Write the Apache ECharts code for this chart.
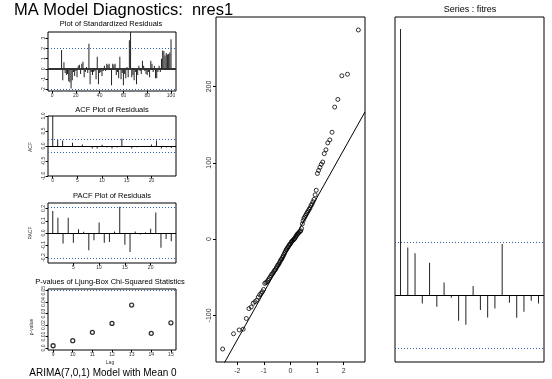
<!DOCTYPE html>
<html>
<head>
<meta charset="utf-8">
<script src="https://cdn.jsdelivr.net/npm/echarts@6/dist/echarts.min.js"></script>
<style>
  html, body { margin: 0; padding: 0; background: #fff; }
  #chart { width: 552px; height: 379px; }
</style>
</head>
<body>
<div id="chart"></div>
<script>
const FONT = '"Liberation Sans", Arial, Helvetica, sans-serif';

// standardized residuals, observations 8..100
const residStart = 8;
const residValues = [
  1.85, -1.1, 0.65, -0.4, -0.6, -0.5, -1.2, -1.3, -1.9, -1.1,
  -0.3, -0.7, -0.2, -0.8, 0.3, 0.4, -0.5, 0.5, 0.7, -0.8,
  -0.3, 0.2, -0.4, 2.45, -1.5, -0.3, -0.6, -0.3, -0.2, -1.0,
  1.2, -1.5, -0.4, -0.3, -0.7, -0.2, 0.3, -0.2, 0.5, 0.4,
  0.5, -0.1, -1.6, 0.5, 0.4, 0.5, -0.6, -0.3, -0.9, 1.2,
  -1.0, -0.4, -1.6, -0.5, -0.9, 0.2, -0.8, 2.8, 3.6, -0.8,
  -0.6, -1.1, -0.3, -1.5, -0.6, 0.3, -0.2, -0.5, 0.8, 0.3,
  -0.2, -0.5, -0.6, -0.3, -0.8, 0.8, 0.5, -0.3, 0.3, -0.9,
  -0.9, -0.3, 0.3, -0.3, 1.0, 1.8, 1.75, 1.3, 1.55, 1.4,
  1.45, 1.6, 2.9
];
const residXTicks = [0, 20, 40, 60, 80, 100];
const residYTicks = [-2, -1, 0, 1, 2, 3];
const residBound = 2;

// ACF of residuals
const acfLags = [0, 1, 2, 3, 4, 5, 6, 7, 8, 9, 10, 11, 12, 13, 14, 15, 16, 17, 18, 19, 20, 21, 22, 23, 24];
const acfValues = [1.0, 0.2, 0.18, -0.03, 0.11, -0.02, 0.05, -0.03, -0.08, -0.08, 0.04, -0.05, -0.08,
  -0.05, 0.24, -0.02, -0.08, -0.04, -0.03, -0.03, 0.05, 0.18, -0.08, -0.05, -0.07];
const acfXTicks = [0, 5, 10, 15, 20];
const acfYTicks = [-1, -0.5, 0, 0.5, 1];
const acfBound = 0.207;

// PACF of residuals
const pacfLags = [1, 2, 3, 4, 5, 6, 7, 8, 9, 10, 11, 12, 13, 14, 15, 16, 17, 18, 19, 20, 21, 22, 23, 24];
const pacfValues = [0.18, 0.125, -0.086, 0.125, -0.08, 0.03, 0.01, -0.14, -0.06, 0.086, -0.08, -0.073,
  0.013, 0.215, -0.095, -0.155, 0.013, -0.013, 0.005, 0.035, 0.168, -0.12, -0.05, -0.068];
const pacfXTicks = [5, 10, 15, 20];
const pacfYTicks = [-0.2, -0.1, 0, 0.1, 0.2];

// Ljung-Box p-values
const ljungLags = [9, 10, 11, 12, 13, 14, 15];
const ljungPValues = [0.002, 0.0064, 0.0137, 0.0215, 0.0375, 0.0128, 0.022];
const ljungYTicks = [0, 0.01, 0.02, 0.03, 0.04, 0.05];
const ljungYLabels = ['0.0', '0.01', '0.02', '0.03', '0.04', '0.05'];
const ljungLevel = 0.05;

// normal QQ plot of residuals (sorted sample)
const qqSample = [
  -144, -124, -119, -118, -104, -91, -89, -84, -82, -80,
  -76, -73, -71, -69, -66, -58, -57, -56, -54, -52,
  -50, -48, -46, -45, -43, -41, -40, -38, -36, -34,
  -33, -31, -29, -27, -26, -24, -22, -20, -18, -16,
  -14, -13, -11, -10, -8, -7, -6, -4, -3, -2,
  -1, 0, 1, 3, 4, 6, 7, 8, 9, 10,
  11, 14, 20, 24, 27, 29, 31, 33, 35, 37,
  39, 41, 44, 46, 49, 52, 58, 64, 86, 90,
  94, 98, 101, 112, 117, 126, 130, 140, 173, 183,
  214, 216, 274
];
const qqLineIntercept = -7.5;
const qqLineSlope = 62.2;
const qqXTicks = [-2, -1, 0, 1, 2];
const qqYTicks = [-100, 0, 100, 200];

// ACF of fitted values
const fitLags = [0, 1, 2, 3, 4, 5, 6, 7, 8, 9, 10, 11, 12, 13, 14, 15, 16, 17, 18, 19];
const fitAcf = [1.0, 0.18, 0.158, -0.03, 0.123, -0.043, 0.048, -0.009, -0.095, -0.11,
  0.035, -0.055, -0.083, -0.049, 0.193, -0.028, -0.084, -0.061, -0.02, -0.03];
const fitBound = 0.202;

// inverse normal cdf (Acklam) for the theoretical quantiles
function qnorm(p) {
  const a = [-39.6968302866538, 220.946098424521, -275.928510446969, 138.357751867269, -30.6647980661472, 2.50662827745924];
  const b = [-54.4760987982241, 161.585836858041, -155.698979859887, 66.8013118877197, -13.2806815528857];
  const c = [-0.00778489400243029, -0.322396458041136, -2.40075827716184, -2.54973253934373, 4.37466414146497, 2.93816398269878];
  const d = [0.00778469570904146, 0.32246712907004, 2.445134137143, 3.75440866190742];
  const pl = 0.02425;
  let q, r;
  if (p < pl) {
    q = Math.sqrt(-2 * Math.log(p));
    return (((((c[0] * q + c[1]) * q + c[2]) * q + c[3]) * q + c[4]) * q + c[5]) / ((((d[0] * q + d[1]) * q + d[2]) * q + d[3]) * q + 1);
  }
  if (p > 1 - pl) {
    q = Math.sqrt(-2 * Math.log(1 - p));
    return -(((((c[0] * q + c[1]) * q + c[2]) * q + c[3]) * q + c[4]) * q + c[5]) / ((((d[0] * q + d[1]) * q + d[2]) * q + d[3]) * q + 1);
  }
  q = p - 0.5;
  r = q * q;
  return (((((a[0] * r + a[1]) * r + a[2]) * r + a[3]) * r + a[4]) * r + a[5]) * q / (((((b[0] * r + b[1]) * r + b[2]) * r + b[3]) * r + b[4]) * r + 1);
}

const n = qqSample.length;
const qqPoints = qqSample.map((v, i) => [qnorm((i + 0.5) / n), v]);
const qqXMin = -2.8, qqXMax = 2.8;
const qqLinePts = [qqXMin, qqXMax].map((x) => [x, qqLineIntercept + qqLineSlope * x]);

const DOT = '#2f62a8';
const SPIKE = '#222';

function grid(left, top, width, height) {
  return { left, top, width, height, show: true, borderColor: '#000', borderWidth: 1, backgroundColor: 'transparent', containLabel: false, outerBoundsMode: 'none' };
}

function axis(gridIndex, min, max, ticks, o = {}) {
  return {
    type: 'value',
    gridIndex,
    min,
    max,
    axisLine: { show: false, onZero: false },
    axisTick: { show: !!ticks, customValues: ticks || [], length: o.tickLen || 2.5, lineStyle: { color: '#000', width: 1 } },
    axisLabel: {
      show: !!ticks,
      customValues: ticks || [],
      fontSize: o.fontSize || 5,
      fontFamily: FONT,
      color: '#333',
      rotate: o.rotate || 0,
      margin: o.margin || 3,
      formatter: o.formatter,
    },
    splitLine: { show: false },
  };
}

function spikes(idx, data, bounds, zeroStyle) {
  return {
    type: 'bar',
    xAxisIndex: idx,
    yAxisIndex: idx,
    data,
    barWidth: 1,
    itemStyle: { color: SPIKE },
    silent: true,
    markLine: {
      silent: true,
      symbol: 'none',
      label: { show: false },
      data: [
        { yAxis: 0, lineStyle: zeroStyle },
        ...bounds.map((b) => ({ yAxis: b, lineStyle: { color: DOT, type: [1, 2], width: 1 } })),
      ],
    },
  };
}

const fmt1 = (v) => v.toFixed(1);
const text = (x, y, str, size, extra = {}) => ({
  type: 'text', x, y, ...extra,
  style: { text: str, fill: extra.fill || '#000', font: `${size}px ${FONT}`, align: extra.align || 'center', verticalAlign: 'middle' },
});

const option = {
  animation: false,
  grid: [
    grid(48, 32, 128, 59),
    grid(48, 116, 128, 60),
    grid(48, 203, 128, 60),
    grid(48, 289, 128, 61),
    grid(216, 17, 149, 345),
    grid(395, 17, 149, 345),
  ],
  xAxis: [
    axis(0, -3.4, 104.2, residXTicks, { margin: 2 }),
    axis(1, -0.96, 24.96, acfXTicks, { margin: 2 }),
    axis(2, 0.08, 24.92, pacfXTicks, { margin: 2 }),
    axis(3, 8.74, 15.26, ljungLags, { margin: 2 }),
    axis(4, qqXMin, qqXMax, qqXTicks, { fontSize: 7, margin: 6, tickLen: 3 }),
    axis(5, -0.76, 19.76, null),
  ],
  yAxis: [
    axis(0, -2.15, 3.6, residYTicks, { rotate: 90, margin: 2 }),
    axis(1, -1, 1, acfYTicks, { rotate: 90, margin: 2, formatter: fmt1 }),
    axis(2, -0.245, 0.245, pacfYTicks, { rotate: 90, margin: 2, formatter: fmt1 }),
    axis(3, -0.0017, 0.0515, ljungYTicks, { rotate: 90, margin: 2, formatter: (v) => ljungYLabels[ljungYTicks.indexOf(v)] ?? String(v) }),
    axis(4, -161, 291, qqYTicks, { rotate: 90, fontSize: 7, margin: 3, tickLen: 3 }),
    axis(5, -0.25, 1.045, null),
  ],
  series: [
    spikes(0, residValues.map((v, i) => [residStart + i, v]), [residBound, -residBound], { color: '#333', type: 'solid', width: 2 }),
    spikes(1, acfLags.map((l, i) => [l, acfValues[i]]), [acfBound, -acfBound], { color: '#000', type: 'solid', width: 1 }),
    spikes(2, pacfLags.map((l, i) => [l, pacfValues[i]]), [acfBound, -acfBound], { color: '#000', type: 'solid', width: 1 }),
    {
      type: 'scatter',
      xAxisIndex: 3,
      yAxisIndex: 3,
      data: ljungLags.map((l, i) => [l, ljungPValues[i]]),
      symbol: 'circle',
      symbolSize: 4,
      itemStyle: { color: 'transparent', borderColor: '#000', borderWidth: 1.3 },
      silent: true,
      markLine: {
        silent: true,
        symbol: 'none',
        label: { show: false },
        data: [{ yAxis: ljungLevel, lineStyle: { color: DOT, type: [1, 2], width: 1 } }],
      },
    },
    {
      type: 'scatter',
      xAxisIndex: 4,
      yAxisIndex: 4,
      data: qqPoints,
      symbol: 'circle',
      symbolSize: 4,
      itemStyle: { color: 'transparent', borderColor: '#000', borderWidth: 1 },
      silent: true,
    },
    {
      type: 'line',
      xAxisIndex: 4,
      yAxisIndex: 4,
      data: qqLinePts,
      showSymbol: false,
      clip: true,
      lineStyle: { color: '#000', width: 1 },
      silent: true,
    },
    spikes(5, fitLags.map((l, i) => [l, fitAcf[i]]), [fitBound, -fitBound], { color: '#000', type: 'solid', width: 1 }),
  ],
  graphic: [
    text(14, 10, 'MA Model Diagnostics:  nres1', 16.5, { align: 'left' }),
    text(111, 23.5, 'Plot of Standardized Residuals', 7.5),
    text(112, 109.5, 'ACF Plot of Residuals', 7.5),
    text(112, 196, 'PACF Plot of Residuals', 7.5),
    text(110, 281.5, 'P-values of Ljung-Box Chi-Squared Statistics', 7.5),
    text(110, 362.5, 'Lag', 5, { fill: '#333' }),
    text(103, 373, 'ARIMA(7,0,1) Model with Mean 0', 10),
    text(470, 9.3, 'Series : fitres', 9),
    text(31, 147, 'ACF', 5, { rotation: Math.PI / 2, fill: '#333' }),
    text(31, 233, 'PACF', 5, { rotation: Math.PI / 2, fill: '#333' }),
    text(32, 327, 'p-value', 5, { rotation: Math.PI / 2, fill: '#333' }),
  ],
};

const chart = echarts.init(document.getElementById('chart'), null, { renderer: 'canvas' });
chart.setOption(option);
</script>
</body>
</html>
